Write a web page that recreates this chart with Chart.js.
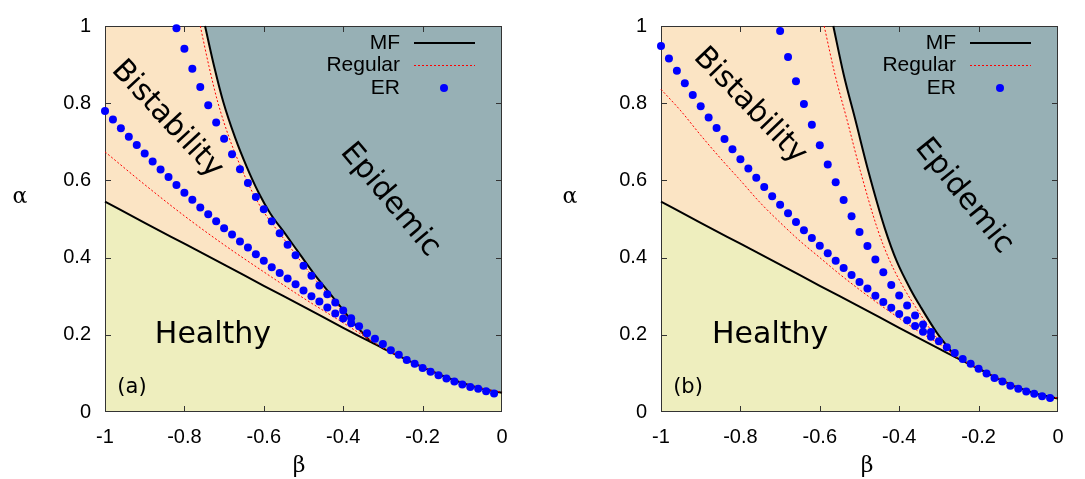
<!DOCTYPE html>
<html>
<head>
<meta charset="utf-8">
<script src="https://cdn.jsdelivr.net/npm/chart.js@4.4.0/dist/chart.umd.min.js"></script>
<style>
html, body { margin: 0; padding: 0; background: #fff; }
#wrap { position: relative; width: 1085px; height: 479px; }
.panel { position: absolute; top: 0; width: 529px; height: 479px; }
</style>
</head>
<body>
<div id="wrap">
  <div class="panel" style="left:0"><canvas id="chartA"></canvas></div>
  <div class="panel" style="left:556px"><canvas id="chartB"></canvas></div>
</div>
<script>
// beta grid of the ER simulations
var erBeta = [-1, -0.98, -0.96, -0.94, -0.92, -0.9, -0.88, -0.86, -0.84, -0.82,
              -0.8, -0.78, -0.76, -0.74, -0.72, -0.7, -0.68, -0.66, -0.64, -0.62,
              -0.6, -0.58, -0.56, -0.54, -0.52, -0.5, -0.48, -0.46, -0.44, -0.42,
              -0.4, -0.38, -0.36, -0.34, -0.32, -0.3, -0.28, -0.26, -0.24, -0.22,
              -0.2, -0.18, -0.16, -0.14, -0.12, -0.1, -0.08, -0.06, -0.04, -0.02];

// panel (a)
var erLowA = [0.780, 0.758, 0.735, 0.713, 0.692, 0.670, 0.649, 0.628, 0.609, 0.588,
              0.568, 0.550, 0.530, 0.512, 0.494, 0.476, 0.460, 0.442, 0.426, 0.409,
              0.392, 0.375, 0.360, 0.346, 0.331, 0.315, 0.300, 0.286, 0.271, 0.255,
              0.242, 0.230, 0.222, 0.204, 0.190, 0.176, 0.160, 0.148, 0.135, 0.125,
              0.114, 0.104, 0.095, 0.087, 0.079, 0.071, 0.065, 0.060, 0.054, 0.048];
var erUpBetaA = [-0.82, -0.8, -0.78, -0.76, -0.74, -0.72, -0.7, -0.68, -0.66, -0.64, -0.62, -0.6,
                 -0.58, -0.56, -0.54, -0.52, -0.5, -0.48, -0.46, -0.44, -0.42, -0.4, -0.38];
var erUpA = [0.994, 0.941, 0.889, 0.842, 0.795, 0.750, 0.708, 0.668, 0.629, 0.593, 0.557, 0.525,
             0.494, 0.463, 0.433, 0.406, 0.379, 0.353, 0.328, 0.305, 0.284, 0.263, 0.243];

var mfLoBetaA = [-1, -0.9, -0.8, -0.7, -0.6, -0.5, -0.4, -0.33, -0.3, -0.25, -0.2, -0.15, -0.1, -0.05, 0];
var mfLoA = [0.545, 0.490, 0.436, 0.382, 0.327, 0.273, 0.218, 0.181, 0.165, 0.140, 0.116, 0.094, 0.075, 0.060, 0.050];
var mfUpBetaA = [-0.748, -0.725, -0.702, -0.672, -0.643, -0.613, -0.584, -0.545, -0.508, -0.475, -0.44, -0.408, -0.37, -0.33];
var mfUpA = [1.0, 0.895, 0.803, 0.710, 0.635, 0.568, 0.515, 0.460, 0.407, 0.360, 0.315, 0.274, 0.226, 0.181];

var regLoBetaA = [-1, -0.9, -0.8, -0.7, -0.6, -0.5, -0.4, -0.33, -0.3, -0.25, -0.2, -0.15, -0.1, -0.05, 0];
var regLoA = [0.674, 0.589, 0.508, 0.433, 0.363, 0.295, 0.231, 0.185, 0.166, 0.141, 0.117, 0.095, 0.076, 0.061, 0.051];
var regUpBetaA = [-0.76, -0.738, -0.716, -0.687, -0.658, -0.628, -0.598, -0.558, -0.519, -0.484, -0.447, -0.413, -0.373, -0.33];
var regUpA = [1.0, 0.895, 0.803, 0.710, 0.635, 0.568, 0.515, 0.460, 0.407, 0.360, 0.315, 0.274, 0.226, 0.183];

// panel (b)
var erLowB = [0.948, 0.916, 0.884, 0.852, 0.821, 0.792, 0.763, 0.736, 0.707, 0.681,
              0.655, 0.631, 0.607, 0.583, 0.559, 0.537, 0.515, 0.492, 0.471, 0.451,
              0.431, 0.411, 0.392, 0.373, 0.355, 0.337, 0.320, 0.301, 0.285, 0.270,
              0.254, 0.238, 0.223, 0.208, 0.195, 0.183, 0.168, 0.153, 0.137, 0.125,
              0.112, 0.100, 0.088, 0.079, 0.068, 0.060, 0.053, 0.047, 0.041, 0.036];
var erUpBetaB = [-0.7, -0.68, -0.66, -0.64, -0.62, -0.6, -0.58, -0.56, -0.54, -0.52,
                 -0.5, -0.48, -0.46, -0.44, -0.42, -0.4, -0.38, -0.36, -0.34, -0.32];
var erUpB = [0.987, 0.920, 0.857, 0.798, 0.744, 0.691, 0.641, 0.595, 0.549, 0.507,
             0.466, 0.430, 0.395, 0.362, 0.329, 0.302, 0.276, 0.250, 0.227, 0.207];

var mfLoBetaB = [-1, -0.9, -0.8, -0.7, -0.6, -0.5, -0.4, -0.3, -0.255, -0.2, -0.15, -0.1, -0.05, 0];
var mfLoB = [0.545, 0.490, 0.436, 0.382, 0.327, 0.273, 0.218, 0.164, 0.140, 0.112, 0.086, 0.063, 0.046, 0.035];
var mfUpBetaB = [-0.566, -0.54, -0.51, -0.478, -0.436, -0.406, -0.37, -0.347, -0.305, -0.275, -0.255];
var mfUpB = [1.0, 0.875, 0.755, 0.625, 0.475, 0.390, 0.315, 0.274, 0.205, 0.165, 0.140];

var regLoBetaB = [-1, -0.95, -0.9, -0.85, -0.8, -0.75, -0.7, -0.65, -0.6, -0.55, -0.5,
                  -0.45, -0.4, -0.35, -0.3, -0.255, -0.2, -0.15, -0.1, -0.05, 0];
var regLoB = [0.836, 0.780, 0.717, 0.657, 0.600, 0.542, 0.491, 0.443, 0.400, 0.357, 0.317,
              0.279, 0.243, 0.208, 0.177, 0.142, 0.113, 0.087, 0.064, 0.047, 0.036];
var regUpBetaB = [-0.589, -0.562, -0.531, -0.498, -0.455, -0.423, -0.385, -0.36, -0.315, -0.282, -0.255];
var regUpB = [1.0, 0.875, 0.755, 0.625, 0.475, 0.390, 0.315, 0.274, 0.205, 0.165, 0.142];

var xTicks = [-0.8, -0.6, -0.4, -0.2];
var yTicks = [0.2, 0.4, 0.6, 0.8];

var HEALTHY = 'rgb(238,238,190)';
var BISTABLE = 'rgb(251,228,196)';
var EPIDEMIC = 'rgb(151,176,181)';
var BLUE = '#0000ff';

function pts(xs, ys) {
    return xs.map(function (x, i) { return {x: x, y: ys[i]}; });
}

function tickText(v) {
    return Number(v.toFixed(1)).toString();
}

function panelPlugin(p) {
    return {
        id: 'panel_' + p.tag,
        beforeDatasetsDraw: function (chart) {
            var ctx = chart.ctx, a = chart.chartArea;
            var sx = chart.scales.x, sy = chart.scales.y;
            var px = function (v) { return sx.getPixelForValue(v); };
            var py = function (v) { return sy.getPixelForValue(v); };
            ctx.save();
            ctx.fillStyle = EPIDEMIC;
            ctx.fillRect(a.left, a.top, a.right - a.left, a.bottom - a.top);

            // bistable region: left of the upper MF branch, above the lower one
            var merge = p.mfUpBeta[p.mfUpBeta.length - 1];
            ctx.beginPath();
            ctx.moveTo(px(-1), py(1));
            p.mfLoBeta.forEach(function (b, i) {
                if (b <= merge + 1e-9) ctx.lineTo(px(b), py(p.mfLo[i]));
            });
            for (var i = p.mfUpBeta.length - 1; i >= 0; i--) ctx.lineTo(px(p.mfUpBeta[i]), py(p.mfUp[i]));
            ctx.closePath();
            ctx.fillStyle = BISTABLE;
            ctx.fill();

            // healthy region below the lower MF branch
            ctx.beginPath();
            ctx.moveTo(px(-1), py(0));
            p.mfLoBeta.forEach(function (b, i) { ctx.lineTo(px(b), py(p.mfLo[i])); });
            ctx.lineTo(px(0), py(0));
            ctx.closePath();
            ctx.fillStyle = HEALTHY;
            ctx.fill();

            // border and inward ticks on all four sides
            ctx.strokeStyle = '#333';
            ctx.lineWidth = 1;
            ctx.strokeRect(a.left + 0.5, a.top + 0.5, a.right - a.left - 1, a.bottom - a.top - 1);
            ctx.beginPath();
            xTicks.forEach(function (t) {
                var x = Math.round(px(t)) + 0.5;
                ctx.moveTo(x, a.bottom); ctx.lineTo(x, a.bottom - 6);
                ctx.moveTo(x, a.top); ctx.lineTo(x, a.top + 6);
            });
            yTicks.forEach(function (t) {
                var y = Math.round(py(t)) + 0.5;
                ctx.moveTo(a.left, y); ctx.lineTo(a.left + 6, y);
                ctx.moveTo(a.right, y); ctx.lineTo(a.right - 6, y);
            });
            ctx.stroke();
            ctx.restore();
        },
        afterDatasetsDraw: function (chart) {
            var ctx = chart.ctx, a = chart.chartArea;
            var sx = chart.scales.x, sy = chart.scales.y;
            ctx.save();
            ctx.fillStyle = '#000';
            ctx.textAlign = 'center';
            ctx.textBaseline = 'middle';
            ctx.font = '30px "DejaVu Sans"';

            function rotated(text, pos) {
                ctx.save();
                ctx.translate(sx.getPixelForValue(pos.b), sy.getPixelForValue(pos.a));
                ctx.rotate(pos.rot * Math.PI / 180);
                ctx.fillText(text, 0, 0);
                ctx.restore();
            }
            rotated('Bistability', p.bis);
            rotated('Epidemic', p.epi);
            rotated('Healthy', p.healthy);
            ctx.font = '21px "DejaVu Sans"';
            rotated(p.label, p.lab);

            // key
            ctx.font = '21px "Liberation Sans"';
            ctx.textAlign = 'right';
            var tx = a.right - 102, l0 = a.right - 88, l1 = a.right - 27;
            var rows = [a.top + 17, a.top + 39, a.top + 62];
            ctx.fillText('MF', tx, rows[0]);
            ctx.fillText('Regular', tx, rows[1]);
            ctx.fillText('ER', tx, rows[2]);
            ctx.strokeStyle = '#000';
            ctx.lineWidth = 2;
            ctx.beginPath(); ctx.moveTo(l0, rows[0]); ctx.lineTo(l1, rows[0]); ctx.stroke();
            ctx.strokeStyle = '#ff0000';
            ctx.lineWidth = 1;
            ctx.setLineDash([2, 2]);
            ctx.beginPath(); ctx.moveTo(l0, rows[1] + 0.5); ctx.lineTo(l1, rows[1] + 0.5); ctx.stroke();
            ctx.setLineDash([]);
            ctx.fillStyle = BLUE;
            ctx.beginPath(); ctx.arc(a.right - 58, rows[2], 4, 0, 2 * Math.PI); ctx.fill();

            // axis symbols
            ctx.fillStyle = '#000';
            ctx.textAlign = 'center';
            ctx.font = '22px "DejaVu Serif"';
            ctx.fillText('\u03b1', p.alphaX, 197);
            ctx.fillText('\u03b2', p.betaX, 466);
            ctx.restore();
        }
    };
}

function makeChart(id, p) {
    var lineStyle = {showLine: true, pointRadius: 0, clip: false, cubicInterpolationMode: 'monotone'};
    var tickFont = {family: 'Liberation Sans', size: 20};
    return new Chart(document.getElementById(id), {
        type: 'scatter',
        data: {
            datasets: [
                {label: 'ER', data: pts(erBeta, p.erLo), pointRadius: 4, pointBackgroundColor: BLUE, pointBorderWidth: 0, showLine: false, clip: false},
                {label: 'ER upper', data: pts(p.erUpBeta, p.erUp), pointRadius: 4, pointBackgroundColor: BLUE, pointBorderWidth: 0, showLine: false, clip: false},
                Object.assign({label: 'Regular', data: pts(p.regLoBeta, p.regLo), borderColor: '#ff0000', borderWidth: 1, borderDash: [2, 2]}, lineStyle),
                Object.assign({label: 'Regular upper', data: pts(p.regUpBeta, p.regUp), borderColor: '#ff0000', borderWidth: 1, borderDash: [2, 2]}, lineStyle),
                Object.assign({label: 'MF', data: pts(p.mfLoBeta, p.mfLo), borderColor: '#000', borderWidth: 2}, lineStyle),
                Object.assign({label: 'MF upper', data: pts(p.mfUpBeta, p.mfUp), borderColor: '#000', borderWidth: 2}, lineStyle)
            ]
        },
        options: {
            responsive: true,
            maintainAspectRatio: false,
            animation: false,
            devicePixelRatio: 1,
            layout: {padding: {top: 15, right: 27, left: 0, bottom: 0}},
            plugins: {legend: {display: false}, tooltip: {enabled: false}},
            scales: {
                x: {
                    type: 'linear', min: -1, max: 0,
                    afterFit: function (s) { s.height = 67; },
                    grid: {display: false, drawTicks: false},
                    border: {display: false},
                    ticks: {stepSize: 0.2, color: '#000', padding: 13, maxRotation: 0,
                            font: tickFont, callback: tickText}
                },
                y: {
                    type: 'linear', min: 0, max: 1,
                    afterFit: function (s) { s.width = 105; },
                    grid: {display: false, drawTicks: false},
                    border: {display: false},
                    ticks: {stepSize: 0.2, color: '#000', padding: 14,
                            font: tickFont, callback: tickText}
                }
            }
        },
        plugins: [panelPlugin(p)]
    });
}

makeChart('chartA', {
    tag: 'a', label: '(a)',
    erLo: erLowA, erUpBeta: erUpBetaA, erUp: erUpA,
    mfLoBeta: mfLoBetaA, mfLo: mfLoA, mfUpBeta: mfUpBetaA, mfUp: mfUpA,
    regLoBeta: regLoBetaA, regLo: regLoA, regUpBeta: regUpBetaA, regUp: regUpA,
    bis: {b: -0.844, a: 0.758, rot: 47},
    epi: {b: -0.282, a: 0.549, rot: 50},
    healthy: {b: -0.728, a: 0.2, rot: 0},
    lab: {b: -0.932, a: 0.063, rot: 0},
    alphaX: 20, betaX: 299
});

makeChart('chartB', {
    tag: 'b', label: '(b)',
    erLo: erLowB, erUpBeta: erUpBetaB, erUp: erUpB,
    mfLoBeta: mfLoBetaB, mfLo: mfLoB, mfUpBeta: mfUpBetaB, mfUp: mfUpB,
    regLoBeta: regLoBetaB, regLo: regLoB, regUpBeta: regUpBetaB, regUp: regUpB,
    bis: {b: -0.776, a: 0.793, rot: 46},
    epi: {b: -0.237, a: 0.559, rot: 51},
    healthy: {b: -0.725, a: 0.2, rot: 0},
    lab: {b: -0.932, a: 0.063, rot: 0},
    alphaX: 14, betaX: 311
});
</script>
</body>
</html>
